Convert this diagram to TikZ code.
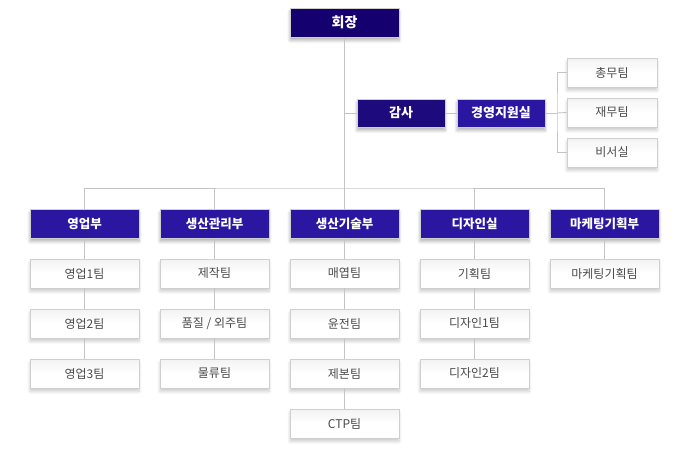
\documentclass[tikz,border=0pt]{standalone}
\usepackage{fontspec}
\setmainfont{Noto Sans CJK KR}
\usetikzlibrary{shadows.blur,positioning}
\definecolor{topc}{HTML}{14006E}
\definecolor{gamc}{HTML}{1D0A7C}
\definecolor{deptc}{HTML}{2A16A0}
\definecolor{linec}{HTML}{C4C4C4}
\definecolor{bordc}{HTML}{CFCFCF}
\definecolor{subtxt}{HTML}{4A4A4A}
\tikzset{
  softshadow/.style={blur shadow={shadow xshift=0pt, shadow yshift=-3.5pt, shadow blur radius=3pt, shadow blur steps=6, shadow opacity=#1}},
  headbox/.style={draw=bordc, line width=0.7pt, text=white, font=\fontsize{12.5}{14}\selectfont\bfseries,
    minimum width=109pt, minimum height=29pt, inner sep=0pt, softshadow=30},
  subbox/.style={draw=bordc, line width=0.9pt, text=subtxt, font=\fontsize{12}{14}\selectfont,
    top color=black!5, bottom color=white, middle color=white,
    minimum width=109pt, minimum height=29pt, inner sep=0pt, softshadow=20},
  conn/.style={draw=linec, line width=0.9pt},
}
\begin{document}
\begin{tikzpicture}[x=1pt,y=-1pt]
\useasboundingbox (0,0) rectangle (690,458);
% top
\node[headbox, fill=topc, font=\fontsize{14}{16}\selectfont\bfseries] (ceo) at (344.5,22.5) {회장};
\node[headbox, fill=gamc, minimum width=88pt, minimum height=28pt, font=\fontsize{13}{15}\selectfont\bfseries] (audit) at (401,113) {감사};
\node[headbox, fill=deptc, minimum width=88pt, minimum height=28pt, font=\fontsize{13}{15}\selectfont\bfseries] (mgmt) at (501,113) {경영지원실};
\node[subbox, minimum width=90pt] (s1) at (612,72.5) {총무팀};
\node[subbox, minimum width=90pt] (s2) at (612,112.5) {재무팀};
\node[subbox, minimum width=90pt] (s3) at (612,152.5) {비서실};
\coordinate (junc) at (344.5,188);
\coordinate (brk) at (557,113);
\coordinate (auditj) at (344.5,113);
% departments
\node[headbox, fill=deptc] (d1) at (84.5,223.5) {영업부};
\node[headbox, fill=deptc] (d2) at (214.5,223.5) {생산관리부};
\node[headbox, fill=deptc] (d3) at (344.5,223.5) {생산기술부};
\node[headbox, fill=deptc] (d4) at (474.5,223.5) {디자인실};
\node[headbox, fill=deptc] (d5) at (604.5,223.5) {마케팅기획부};
% teams
\node[subbox] (a1) at (84.5,273.5) {영업1팀};
\node[subbox] (a2) at (84.5,323.5) {영업2팀};
\node[subbox] (a3) at (84.5,373.5) {영업3팀};
\node[subbox] (b1) at (214.5,273.5) {제작팀};
\node[subbox] (b2) at (214.5,323.5) {품질 / 외주팀};
\node[subbox] (b3) at (214.5,373.5) {물류팀};
\node[subbox] (c1) at (344.5,273.5) {매엽팀};
\node[subbox] (c2) at (344.5,323.5) {윤전팀};
\node[subbox] (c3) at (344.5,373.5) {제본팀};
\node[subbox] (c4) at (344.5,423.5) {CTP팀};
\node[subbox] (e1) at (474.5,273.5) {기획팀};
\node[subbox] (e2) at (474.5,323.5) {디자인1팀};
\node[subbox] (e3) at (474.5,373.5) {디자인2팀};
\node[subbox] (f1) at (604.5,273.5) {마케팅기획팀};
% connectors
\path[conn] (ceo.south) -- (junc);
\path[conn] (auditj) -- (audit.west);
\path[conn] (audit.east) -- (mgmt.west);
\path[conn] (mgmt.east) -- (brk);
\path[conn] (s1.west) -| (brk) |- (s3.west);
\path[conn] (brk) -- (s2.west);
\path[conn] (d1.north) |- (junc) -| (d5.north);
\path[conn] (d2.north) -- (d2.north |- junc);
\path[conn] (d3.north) -- (junc);
\path[conn] (d4.north) -- (d4.north |- junc);
\path[conn] (d1.south) -- (a1.north) (a1.south) -- (a2.north) (a2.south) -- (a3.north);
\path[conn] (d2.south) -- (b1.north) (b1.south) -- (b2.north) (b2.south) -- (b3.north);
\path[conn] (d3.south) -- (c1.north) (c1.south) -- (c2.north) (c2.south) -- (c3.north) (c3.south) -- (c4.north);
\path[conn] (d4.south) -- (e1.north) (e1.south) -- (e2.north) (e2.south) -- (e3.north);
\path[conn] (d5.south) -- (f1.north);
\end{tikzpicture}
\end{document}
